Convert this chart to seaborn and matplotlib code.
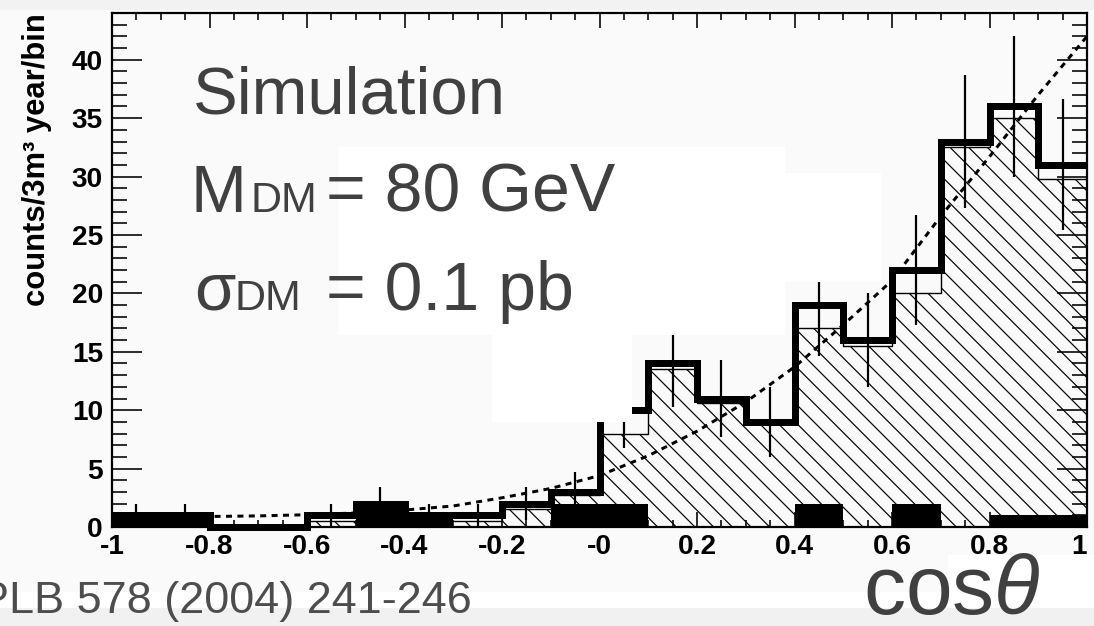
import numpy as np
import pandas as pd
import matplotlib
matplotlib.use("Agg")
import matplotlib.pyplot as plt
import seaborn as sns
from matplotlib.patches import Rectangle
from matplotlib.ticker import MultipleLocator

# ---------------- data ----------------
bin_edges = [-1.0, -0.9, -0.8, -0.7, -0.6, -0.5, -0.4, -0.3, -0.2, -0.1, 0.0,
             0.1, 0.2, 0.3, 0.4, 0.5, 0.6, 0.7, 0.8, 0.9, 1.0]
data_counts = [1, 1, 0, 0, 1, 2, 1, 1, 2, 3, 10, 14, 11, 9, 19, 16, 22, 33, 36, 31]
data_errors = [1, 1, 0, 0, 1, 1.4, 1, 1, 1.4, 1.7, 3.2, 3.7, 3.3, 3.0, 4.4, 4.0, 4.7, 5.7, 6.0, 5.6]
sim_counts = [0, 0, 0, 0, 0.5, 0.5, 0.5, 0.5, 1.5, 2.7, 8.0, 13.5, 10.6, 9.0, 17.0, 15.5, 20.0, 32.5, 35.0, 29.8]
bkg_counts = [1, 1, 0, 0, 0, 2, 1, 0, 0, 2, 2, 0, 0, 0, 2, 0, 2, 0, 1, 1]
curve_x = [-1.0, -0.9, -0.8, -0.7, -0.6, -0.5, -0.4, -0.3, -0.2, -0.1, 0.0,
           0.1, 0.2, 0.3, 0.4, 0.5, 0.6, 0.7, 0.8, 0.9, 1.0]
curve_y = [0.85, 0.87, 0.9, 0.95, 1.05, 1.2, 1.45, 1.8, 2.5, 3.3, 4.4,
           6.1, 8.2, 10.7, 13.7, 17.3, 21.1, 26.6, 31.7, 37.0, 42.0]
xtick_vals = [-1.0, -0.8, -0.6, -0.4, -0.2, 0.0, 0.2, 0.4, 0.6, 0.8, 1.0]
xtick_labels = ["-1", "-0.8", "-0.6", "-0.4", "-0.2", "-0", "0.2", "0.4", "0.6", "0.8", "1"]
ytick_vals = [0, 5, 10, 15, 20, 25, 30, 35, 40]
ytick_labels = ["0", "5", "10", "15", "20", "25", "30", "35", "40"]
y_title = "counts/3m\u00b3 year/bin"

# ---------------- figure setup ----------------
W, H, DPI = 1094, 626, 168


def pt(px):
    return px * 72.0 / DPI


sns.set_theme(style="ticks")
plt.rcParams["font.family"] = ["Liberation Sans", "DejaVu Sans"]
plt.rcParams["hatch.color"] = "#222222"
plt.rcParams["hatch.linewidth"] = pt(1.2)
plt.rcParams["mathtext.fontset"] = "custom"
plt.rcParams["mathtext.rm"] = "Liberation Sans"
plt.rcParams["mathtext.it"] = "Liberation Sans:italic"

BG = "#fafafa"
fig = plt.figure(figsize=(W / DPI, H / DPI), dpi=DPI, facecolor=BG)
ax = fig.add_axes([112 / W, 1 - 527 / H, (1087 - 112) / W, (527 - 13) / H])
ax.set_facecolor(BG)

centers = [(a + b) / 2 for a, b in zip(bin_edges[:-1], bin_edges[1:])]
df = pd.DataFrame({"x": centers, "data": data_counts, "sim": sim_counts, "bkg": bkg_counts})

# hatched simulation histogram
sns.histplot(data=df, x="x", weights="sim", bins=bin_edges, element="step", fill=True,
             color="black", facecolor="none", edgecolor="black", linewidth=pt(1.4),
             hatch="\\\\\\", ax=ax, zorder=1.0)
# dashed expectation curve
sns.lineplot(x=curve_x, y=curve_y, ax=ax, color="black", linewidth=pt(3.0),
             dashes=(2.0, 1.8), zorder=1.5)
# error bars of the data
ax.errorbar(centers, data_counts, yerr=data_errors, fmt="none", ecolor="black",
            elinewidth=pt(2.2), capsize=0, zorder=1.6)
# black filled histogram
sns.histplot(data=df, x="x", weights="bkg", bins=bin_edges, element="step", fill=True,
             color="black", facecolor="black", edgecolor="black", linewidth=0, alpha=1,
             ax=ax, zorder=1.8)
# thick data histogram
sns.histplot(data=df, x="x", weights="data", bins=bin_edges, element="step", fill=False,
             color="black", linewidth=pt(7), alpha=1, ax=ax, zorder=2.0,
             clip_on=False, solid_joinstyle="miter", solid_capstyle="butt")

ax.set_xlim(-1, 1)
ax.set_ylim(0, 44)
ax.set_axisbelow(False)

ax.set_xticks(xtick_vals, labels=xtick_labels, fontweight="bold", fontsize=pt(28))
ax.set_yticks(ytick_vals, labels=ytick_labels, fontweight="bold", fontsize=pt(28))
ax.get_xticklabels()[-1].set_horizontalalignment("right")
ax.xaxis.set_minor_locator(MultipleLocator(0.05))
ax.yaxis.set_minor_locator(MultipleLocator(1))
ax.tick_params(which="both", direction="in", top=True, right=True, color="black",
               width=pt(1.6), labelcolor="black")
ax.tick_params(axis="x", which="major", length=pt(15), pad=pt(7))
ax.tick_params(axis="x", which="minor", length=pt(7))
ax.tick_params(axis="y", which="major", length=pt(30), pad=pt(9))
ax.tick_params(axis="y", which="minor", length=pt(15))
for s in ax.spines.values():
    s.set_visible(True)
    s.set_linewidth(pt(2.2))
    s.set_color("black")

ax.set_xlabel("")
ax.set_ylabel(y_title, fontweight="bold", fontsize=pt(31), loc="top", color="black")
ax.yaxis.set_label_coords(-0.062, 1.0)


# ---------------- slide overlays ----------------
def frect(x0, y0, x1, y1, color, z=5):
    fig.add_artist(Rectangle((x0 / W, 1 - y1 / H), (x1 - x0) / W, (y1 - y0) / H,
                             transform=fig.transFigure, facecolor=color,
                             edgecolor="none", zorder=z))


frect(0, 0, W, 10, "#f2f2f2")
frect(0, 592, W, 608, "#ffffff")
frect(0, 608, W, H, "#f1f1f1")
frect(339, 147, 785, 335, "#ffffff")
frect(785, 173, 881, 282, "#ffffff")
frect(492, 335, 632, 422, "#ffffff")
frect(948, 555, W, 608, "#ffffff")

TXT = "#404040"


def ftxt(x, y, s, size_px, color=TXT, **kw):
    fig.text(x / W, 1 - y / H, s, fontsize=pt(size_px), color=color,
             ha="left", va="baseline", zorder=6, **kw)


ftxt(193, 113, "Simulation", 67)
ftxt(191, 212, "M", 67)
ftxt(250, 212, "DM", 43)
ftxt(326, 212, "= 80 GeV", 68)
ftxt(194, 310, "\u03c3", 67)
ftxt(234, 310, "DM", 43)
ftxt(326, 310, "= 0.1 pb", 68)
ftxt(-21, 613, "PLB 578 (2004) 241-246", 45, color="#4d4d4d")
ftxt(863, 614, "cos$\\theta$", 84)

fig.savefig("out.png", dpi=DPI, facecolor=BG)
